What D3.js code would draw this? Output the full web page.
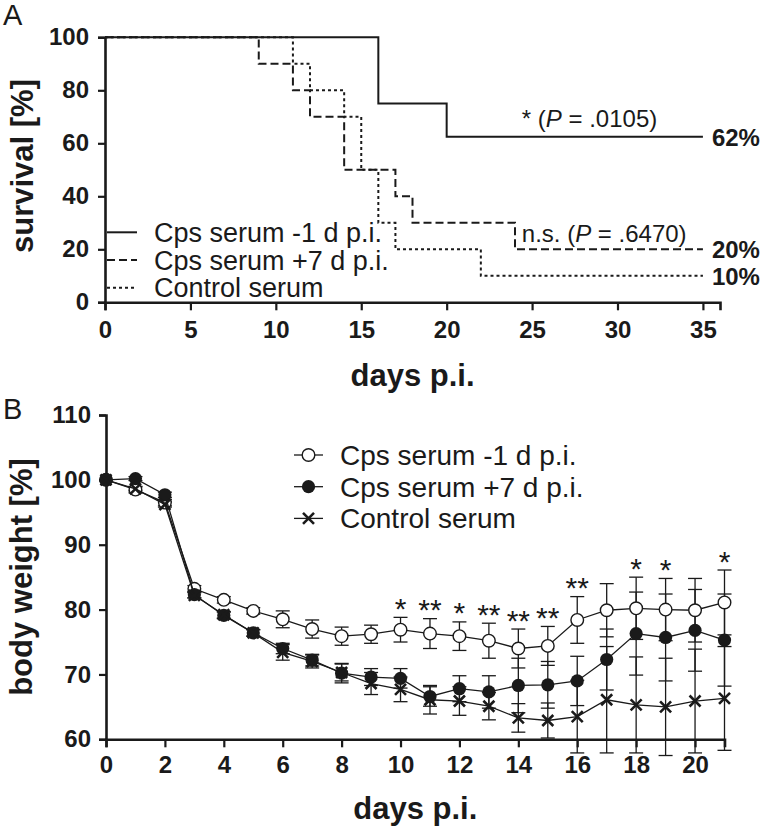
<!DOCTYPE html>
<html>
<head>
<meta charset="utf-8">
<script src="https://cdn.jsdelivr.net/npm/d3@7"></script>
<style>
  html, body { margin: 0; padding: 0; background: #fff; }
  svg { display: block; }
  text { font-family: "Liberation Sans", Arial, sans-serif; fill: #1a1a1a; }
</style>
</head>
<body>
<svg id="chart" width="764" height="831"></svg>
<script>
// ---------- Panel A: survival ----------
const survSeries = ["Cps serum -1 d p.i.", "Cps serum +7 d p.i.", "Control serum"];
const survDaysCps1 = [0, 16, 20, 35];
const survCps1     = [100, 75, 62.5, 62.5];
const survDaysCps7 = [0, 9, 11, 12, 14, 17, 18, 24, 35];
const survCps7     = [100, 90, 80, 70, 50, 40, 30, 20, 20];
const survDaysCtrl = [0, 11, 12, 14, 15, 16, 17, 22, 35];
const survCtrl     = [100, 90, 80, 70, 50, 30, 20, 10, 10];
const survEndLabels = ["62%", "20%", "10%"];
const survXTicks = [0, 5, 10, 15, 20, 25, 30, 35];
const survYTicks = [0, 20, 40, 60, 80, 100];

// ---------- Panel B: body weight ----------
const bwSeries = ["Cps serum -1 d p.i.", "Cps serum +7 d p.i.", "Control serum"];
const days = [0,1,2,3,4,5,6,7,8,9,10,11,12,13,14,15,16,17,18,19,20,21];
const bwCps1    = [100,98.5,96.5,83.2,81.5,79.8,78.5,77.0,75.9,76.2,76.9,76.3,75.9,75.2,74.0,74.4,78.4,79.9,80.2,80.0,79.9,81.1];
const bwCps1Err = [0,0.5,0.5,0.5,0.5,0.5,1.3,1.4,1.4,1.4,1.9,2.3,2.2,2.7,3.0,3.0,3.6,4.1,4.8,4.8,4.9,5.0];
const bwCps7    = [100,100.2,97.7,82.3,79.1,76.4,74.0,72.2,70.2,69.6,69.4,66.6,67.8,67.3,68.3,68.4,69.0,72.3,76.3,75.7,76.8,75.3];
const bwCps7Err = [0,0.3,0.4,0.5,0.5,0.5,0.8,0.9,1.5,1.3,1.5,1.5,2.0,2.5,4.2,3.6,3.8,4.7,6.4,6.7,6.3,7.1];
const bwCtrl    = [100,98.6,96.2,82.2,79.2,76.4,73.4,72.0,70.3,68.6,67.7,66.1,65.9,65.1,63.3,62.9,63.5,66.1,65.3,65.0,65.9,66.3];
const bwCtrlErr = [0,0.3,0.4,0.4,0.5,0.5,1.2,1.0,1.3,1.7,1.9,2.2,2.2,2.1,2.2,2.7,5.6,8.2,7.4,7.5,8.0,8.0];
const sigDays   = [10, 11, 12, 13, 14, 15, 16, 18, 19, 21];
const sigLabels = ["*", "**", "*", "**", "**", "**", "**", "*", "*", "*"];
const bwXTicks = [0, 2, 4, 6, 8, 10, 12, 14, 16, 18, 20];
const bwYTicks = [60, 70, 80, 90, 100, 110];

const svg = d3.select("#chart");
const FONT_TICK = 24;

// ================= PANEL A =================
const xA = d3.scaleLinear().domain([0, 36]).range([105, 720]);
const yA = d3.scaleLinear().domain([0, 100]).range([302.3, 37.3]);

const gA = svg.append("g");

function styleAxis(g) {
  g.select(".domain").attr("stroke", "#1a1a1a").attr("stroke-width", 2.6);
  g.selectAll(".tick line").attr("stroke", "#1a1a1a").attr("stroke-width", 2.2);
  g.selectAll(".tick text").attr("font-size", FONT_TICK).attr("font-weight", "bold")
    .attr("fill", "#1a1a1a").attr("font-family", '"Liberation Sans", Arial, sans-serif');
}

gA.append("g").attr("transform", `translate(0,${yA(0)})`)
  .call(d3.axisBottom(xA).tickValues(survXTicks).tickSizeOuter(0).tickSize(8).tickPadding(11))
  .call(styleAxis);
gA.append("g").attr("transform", `translate(${xA(0)},0)`)
  .call(d3.axisLeft(yA).tickValues(survYTicks).tickSizeOuter(0).tickSize(7).tickPadding(9))
  .call(styleAxis);

const stepLine = d3.line().x(d => xA(d[0])).y(d => yA(d[1])).curve(d3.curveStepAfter);
const survData = [
  {days: survDaysCtrl, vals: survCtrl, dash: "3,3"},
  {days: survDaysCps7, vals: survCps7, dash: "8,4"},
  {days: survDaysCps1, vals: survCps1, dash: null}
];
survData.forEach(s => {
  gA.append("path")
    .attr("d", stepLine(s.days.map((d, i) => [d, s.vals[i]])))
    .attr("fill", "none").attr("stroke", "#1a1a1a").attr("stroke-width", 2)
    .attr("stroke-dasharray", s.dash);
});

// end labels
const endVals = [survCps1[survCps1.length - 1], survCps7[survCps7.length - 1], survCtrl[survCtrl.length - 1]];
endVals.forEach((v, i) => {
  gA.append("text").attr("x", xA(35) + 9).attr("y", yA(v) + 9)
    .attr("font-size", 24).attr("font-weight", "bold").text(survEndLabels[i]);
});

// p-value annotations
const pa = gA.append("text").attr("x", xA(24.4)).attr("y", yA(66.3)).attr("font-size", 24);
pa.append("tspan").text("* (");
pa.append("tspan").attr("font-style", "italic").text("P");
pa.append("tspan").text(" = .0105)");
const pb = gA.append("text").attr("x", xA(24.4)).attr("y", yA(22.9)).attr("font-size", 24);
pb.append("tspan").text("n.s. (");
pb.append("tspan").attr("font-style", "italic").text("P");
pb.append("tspan").text(" = .6470)");

// legend A
const legDash = [null, "8,4", "3,3"];
survSeries.forEach((name, i) => {
  const yy = 232.3 + i * 27.7;
  gA.append("line").attr("x1", 107).attr("x2", 137).attr("y1", yy).attr("y2", yy)
    .attr("stroke", "#1a1a1a").attr("stroke-width", 2).attr("stroke-dasharray", legDash[i]);
  gA.append("text").attr("x", 154).attr("y", yy + 9.5).attr("font-size", 27).text(name);
});

// axis titles A
gA.append("text").attr("x", xA(18)).attr("y", 386).attr("text-anchor", "middle")
  .attr("font-size", 31).attr("font-weight", "bold").text("days p.i.");
gA.append("text").attr("transform", `translate(33,${166}) rotate(-90)`).attr("text-anchor", "middle")
  .attr("font-size", 31).attr("font-weight", "bold").text("survival [%]");
gA.append("text").attr("x", 3).attr("y", 25).attr("font-size", 29).text("A");

// ================= PANEL B =================
const xB = d3.scaleLinear().domain([0, 21]).range([106, 724.5]);
const yB = d3.scaleLinear().domain([60, 110]).range([739.3, 415]);
const gB = svg.append("g");

gB.append("g").attr("transform", `translate(0,${yB(60)})`)
  .call(d3.axisBottom(xB).tickValues(bwXTicks).tickSizeOuter(0).tickSize(8).tickPadding(9))
  .call(styleAxis);
gB.append("g").attr("transform", `translate(${xB(0)},0)`)
  .call(d3.axisLeft(yB).tickValues(bwYTicks).tickSizeOuter(0).tickSize(7).tickPadding(8))
  .call(styleAxis);

const bwData = [
  {vals: bwCps1, err: bwCps1Err, type: "open"},
  {vals: bwCps7, err: bwCps7Err, type: "filled"},
  {vals: bwCtrl, err: bwCtrlErr, type: "cross"}
];
const lineB = d3.line().x((d, i) => xB(days[i])).y(d => yB(d));
const capW = 7;

// error bars first
bwData.forEach(s => {
  const eg = gB.append("g").attr("stroke", "#1a1a1a").attr("stroke-width", 1.3);
  days.forEach((d, i) => {
    if (s.err[i] <= 0) return;
    const x = xB(d), y1 = yB(s.vals[i] + s.err[i]), y2 = yB(s.vals[i] - s.err[i]);
    eg.append("line").attr("x1", x).attr("x2", x).attr("y1", y1).attr("y2", y2);
    eg.append("line").attr("x1", x - capW).attr("x2", x + capW).attr("y1", y1).attr("y2", y1);
    eg.append("line").attr("x1", x - capW).attr("x2", x + capW).attr("y1", y2).attr("y2", y2);
  });
});

function drawMarker(g, type, x, y) {
  if (type === "open") {
    g.append("circle").attr("cx", x).attr("cy", y).attr("r", 6.3)
      .attr("fill", "#fff").attr("stroke", "#1a1a1a").attr("stroke-width", 1.4);
  } else if (type === "filled") {
    g.append("circle").attr("cx", x).attr("cy", y).attr("r", 6.6).attr("fill", "#1a1a1a");
  } else {
    const s = 5.5;
    g.append("path").attr("d", `M${x - s},${y - s}L${x + s},${y + s}M${x - s},${y + s}L${x + s},${y - s}`)
      .attr("stroke", "#1a1a1a").attr("stroke-width", 2.6);
  }
}

bwData.forEach(s => {
  gB.append("path").attr("d", lineB(s.vals)).attr("fill", "none")
    .attr("stroke", "#1a1a1a").attr("stroke-width", 1.3);
  const mg = gB.append("g");
  days.forEach((d, i) => drawMarker(mg, s.type, xB(d), yB(s.vals[i])));
});

// significance asterisks
sigDays.forEach((d, k) => {
  const top = yB(bwCps1[d] + bwCps1Err[d]) - 16;
  gB.append("text").attr("x", xB(d)).attr("y", top + 17.5).attr("text-anchor", "middle")
    .attr("font-size", 30).text(sigLabels[k]);
});

// legend B
const legTypes = ["open", "filled", "cross"];
bwSeries.forEach((name, i) => {
  const yy = 455 + i * 31.7;
  gB.append("line").attr("x1", 294).attr("x2", 323).attr("y1", yy).attr("y2", yy)
    .attr("stroke", "#1a1a1a").attr("stroke-width", 1.3);
  drawMarker(gB, legTypes[i], 308.5, yy);
  gB.append("text").attr("x", 340).attr("y", yy + 10).attr("font-size", 28).text(name);
});

// axis titles B
gB.append("text").attr("x", xB(10.5)).attr("y", 819).attr("text-anchor", "middle")
  .attr("font-size", 31).attr("font-weight", "bold").text("days p.i.");
gB.append("text").attr("transform", `translate(32,${577}) rotate(-90)`).attr("text-anchor", "middle")
  .attr("font-size", 31).attr("font-weight", "bold").text("body weight [%]");
gB.append("text").attr("x", 3).attr("y", 419).attr("font-size", 29).text("B");
</script>
</body>
</html>
